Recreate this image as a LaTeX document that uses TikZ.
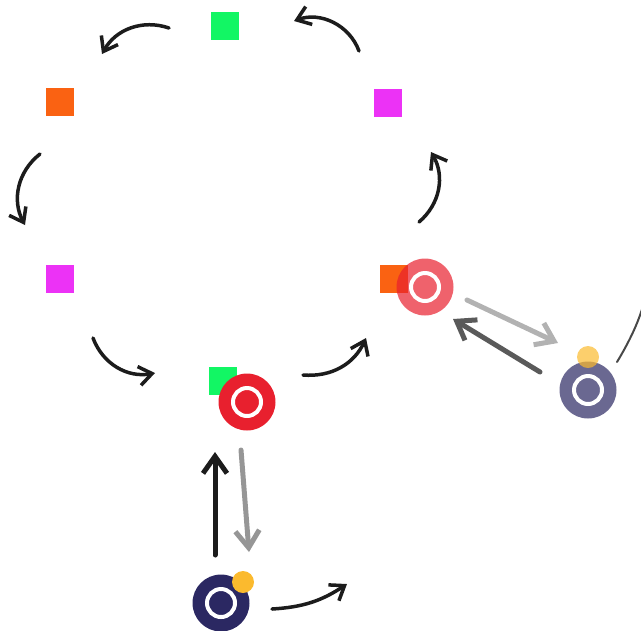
\documentclass[tikz,border=0pt]{standalone}
\usetikzlibrary{arrows.meta}

\definecolor{sqgreen}{RGB}{18,246,100}
\definecolor{sqorange}{RGB}{250,98,18}
\definecolor{sqmagenta}{RGB}{236,50,246}
\definecolor{tgred}{RGB}{232,32,46}
\definecolor{tgnavy}{RGB}{43,40,98}
\definecolor{tkyellow}{RGB}{251,186,46}
\definecolor{ink}{RGB}{28,28,28}
\definecolor{lightink}{RGB}{178,178,178}
\definecolor{midink}{RGB}{150,150,150}
\definecolor{darkink}{RGB}{90,90,90}

\tikzstyle{square}=[shape=rectangle,minimum size=0.56cm,inner sep=0pt]
\tikzstyle{target}=[shape=circle,minimum size=1.14cm,inner sep=0pt,path picture={\draw[white,line width=0.08cm] (path picture bounding box.center) circle (0.28cm);}]
\tikzstyle{token}=[shape=circle,minimum size=0.44cm,inner sep=0pt,fill=tkyellow]
\tikzstyle{curvy}=[-{Straight Barb[length=0.26cm,width=0.38cm]},line width=0.07cm,line cap=round,draw=ink]
\tikzstyle{flow}=[-{Straight Barb[length=0.34cm,width=0.48cm]},line width=0.1cm,line cap=round]

\begin{document}
\begin{tikzpicture}[x=0.02cm,y=-0.02cm]
        \clip (0,0) rectangle (641,630);

        % ring of squares
        \node[square,fill=sqgreen]   (s1) at (225,26)  {};
        \node[square,fill=sqorange]  (s2) at (60,102)  {};
        \node[square,fill=sqmagenta] (s3) at (60,279)  {};
        \node[square,fill=sqgreen]   (s4) at (223,381) {};
        \node[square,fill=sqorange]  (s5) at (394,279) {};
        \node[square,fill=sqmagenta] (s6) at (388,103) {};

        % targets
        \node[target,fill=tgred]                    (t1) at (247,402) {};
        \node[target,fill=tgred,fill opacity=0.7]   (t2) at (425,287) {};
        \node[target,fill=tgnavy,fill opacity=0.7]  (t3) at (588,390) {};
        \node[target,fill=tgnavy]                   (t4) at (221,603) {};
        \node[token,fill opacity=0.7] (k1) at (588,357) {};
        \node[token]                  (k2) at (243,582) {};

        % arrow ends
        \coordinate (a1) at (169,28);  \coordinate (b1) at (102,54);
        \coordinate (a2) at (359,51);  \coordinate (b2) at (294,21);
        \coordinate (a3) at (40,154);  \coordinate (b3) at (25,225);
        \coordinate (a4) at (419,222); \coordinate (b4) at (431,152);
        \coordinate (a5) at (93,338);  \coordinate (b5) at (155,373);
        \coordinate (a6) at (303,375); \coordinate (b6) at (366,338);
        \coordinate (a7) at (272,609); \coordinate (b7) at (347,584);
        \coordinate (a8) at (617,362); \coordinate (b8) at (652,240);
        \coordinate (u1) at (215,555); \coordinate (u2) at (215,452);
        \coordinate (d1) at (241,450); \coordinate (d2) at (249,552);
        \coordinate (r1) at (467,300); \coordinate (r2) at (558,343);
        \coordinate (l1) at (540,372); \coordinate (l2) at (453,319);

        \draw [curvy] (a1) to[bend right=40] (b1);
        \draw [curvy] (a2) to[bend right=45] (b2);
        \draw [curvy] (a3) to[bend right=40] (b3);
        \draw [curvy] (a4) to[bend right=40] (b4);
        \draw [curvy] (a5) to[bend right=40] (b5);
        \draw [curvy] (a6) to[bend right=35] (b6);
        \draw [curvy] (a7) to[bend right=15] (b7);
        \draw [line width=0.04cm,line cap=round,draw=darkink!80!black] (a8) to[bend right=15] (b8);

        \draw [flow,draw=ink]       (u1) to (u2);
        \draw [flow,draw=midink]    (d1) to (d2);
        \draw [flow,draw=lightink]  (r1) to (r2);
        \draw [flow,draw=darkink]   (l1) to (l2);
\end{tikzpicture}
\end{document}
